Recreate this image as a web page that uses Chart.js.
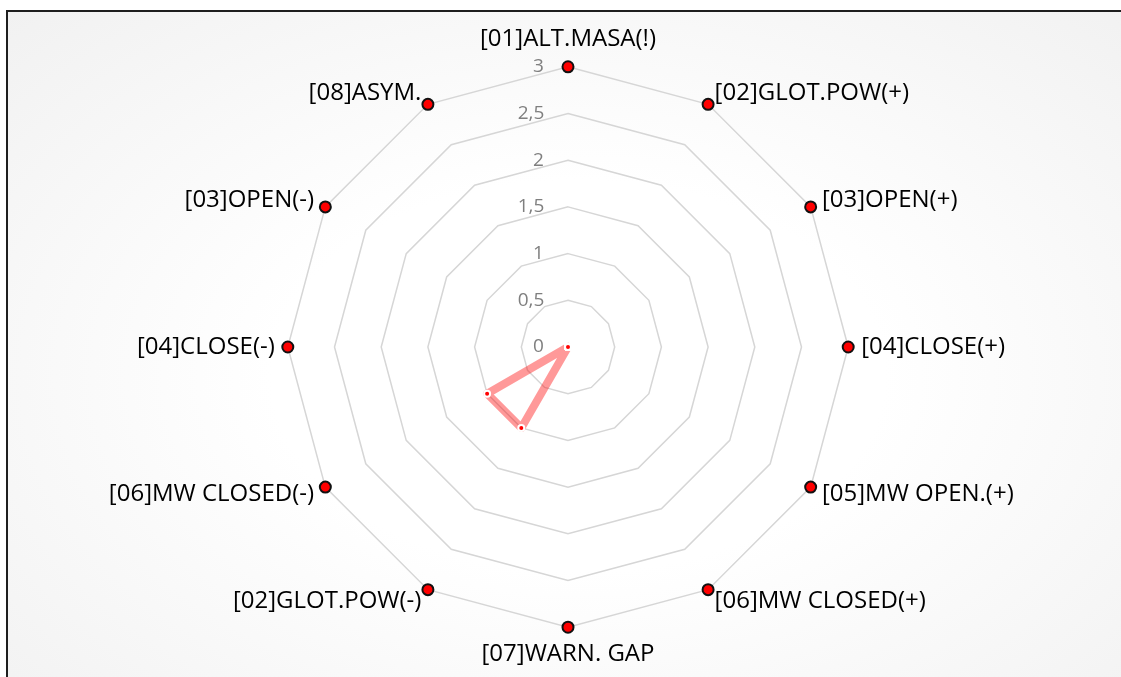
<!DOCTYPE html>
<html>
<head>
<meta charset="utf-8">
<script src="https://cdn.jsdelivr.net/npm/chart.js@4.4.1/dist/chart.umd.min.js"></script>
<style>
  html, body { margin: 0; padding: 0; width: 1121px; height: 677px; overflow: hidden; background: #ffffff; }
  #frame {
    position: absolute; left: 6px; top: 10px; width: 1140px; height: 700px;
    border: 2px solid #1e1e1e;
    background: radial-gradient(ellipse at 50% 52%, #ffffff 38%, #f1f1f1 100%);
  }
  #wrap { position: absolute; left: 8px; top: 25px; width: 1120px; height: 645px; }
</style>
</head>
<body>
<div id="frame"></div>
<div id="wrap"><canvas id="radarChart"></canvas></div>
<script>
// Categories (clockwise from top)
const categories = [
  "[01]ALT.MASA(!)", "[02]GLOT.POW(+)", "[03]OPEN(+)", "[04]CLOSE(+)",
  "[05]MW OPEN.(+)", "[06]MW CLOSED(+)", "[07]WARN. GAP", "[02]GLOT.POW(-)",
  "[06]MW CLOSED(-)", "[04]CLOSE(-)", "[03]OPEN(-)", "[08]ASYM."
];

// Series values
const seriesValues = [0, 0, 0, 0, 0, 0, 0, 1, 1, 0, 0, 0];
const limitValues = [3, 3, 3, 3, 3, 3, 3, 3, 3, 3, 3, 3];

// Tick values on the radial axis
const tickValues = [0, 0.5, 1, 1.5, 2, 2.5, 3];

// Tick labels sit left of the axis line: pad with trailing spaces
const measureCtx = document.createElement('canvas').getContext('2d');
measureCtx.font = '19px "Open Sans"';
const spaceW = measureCtx.measureText('          ').width / 10;
function tickLabel(value) {
  const text = String(value).replace('.', ',');
  const target = measureCtx.measureText(text).width + 46;
  return text + ' '.repeat(Math.round(target / spaceW));
}

Chart.defaults.font.family = '"Open Sans", sans-serif';

const ctx = document.getElementById('radarChart').getContext('2d');
const radarChart = new Chart(ctx, {
  type: 'radar',
  data: {
    labels: categories,
    datasets: [
      {
        label: 'Wynik',
        data: seriesValues,
        borderColor: 'rgba(255, 0, 0, 0.4)',
        borderWidth: 8,
        borderJoinStyle: 'round',
        fill: false,
        tension: 0,
        pointRadius: 3,
        pointBackgroundColor: '#ff0000',
        pointBorderColor: '#ffffff',
        pointBorderWidth: 2
      },
      {
        label: 'Max',
        data: limitValues,
        showLine: false,
        fill: false,
        pointRadius: 5.5,
        pointBackgroundColor: '#ff0000',
        pointBorderColor: '#111111',
        pointBorderWidth: 2
      }
    ]
  },
  options: {
    responsive: true,
    maintainAspectRatio: false,
    animation: false,
    layout: { padding: 0 },
    plugins: {
      legend: { display: false },
      tooltip: { enabled: false }
    },
    scales: {
      r: {
        min: -1e-9,
        max: 3,
        afterBuildTicks: (scale) => { scale.ticks = tickValues.map(v => ({ value: v })); },
        angleLines: { display: false },
        grid: {
          color: (c) => (c.tick && c.tick.value === 0) ? 'rgba(0,0,0,0)' : '#d6d6d6',
          lineWidth: 1.5
        },
        ticks: {
          stepSize: 0.5,
          color: '#7f7f7f',
          font: { size: 19 },
          showLabelBackdrop: false,
          callback: tickLabel
        },
        pointLabels: {
          color: '#000000',
          padding: 1.5,
          font: (c) => ({
            size: 24,
            lineHeight: (c.index % 6 === 0) ? 1.2 : 0.01
          })
        }
      }
    }
  }
});
</script>
</body>
</html>
